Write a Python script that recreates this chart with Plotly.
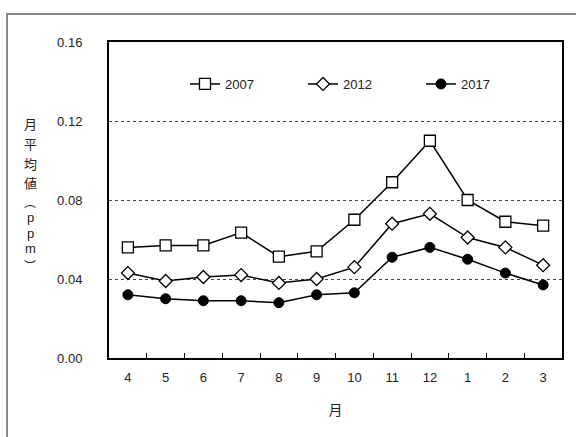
import plotly.graph_objects as go

months = ["4", "5", "6", "7", "8", "9", "10", "11", "12", "1", "2", "3"]
y2007 = [0.056, 0.057, 0.057, 0.0635, 0.0513, 0.054, 0.070, 0.089, 0.110, 0.080, 0.069, 0.067]
y2012 = [0.043, 0.039, 0.041, 0.042, 0.038, 0.040, 0.046, 0.068, 0.073, 0.061, 0.056, 0.047]
y2017 = [0.032, 0.030, 0.029, 0.029, 0.028, 0.032, 0.033, 0.051, 0.056, 0.050, 0.043, 0.037]
yticks = [0.00, 0.04, 0.08, 0.12, 0.16]
ytitle_chars = ["月", "平", "均", "値", "︵", "p", "p", "m", "︶"]
ytitle_pos = [123, 143, 163, 182, 201, 217, 233, 249, 265]
ytitle_cjk = [True, True, True, True, True, False, False, False, True]
ytitle_size = [13, 13, 13, 13, 12, 13, 13, 13, 12]

W, H = 576, 437
L, R, T, B = 109, 14, 42, 79
pw, ph = W - L - R, H - T - B

def px(x):
    return (x - L) / pw

def py(y):
    return (H - B - y) / ph

fig = go.Figure()
fig.add_trace(go.Scatter(x=months, y=y2007, name="2007", mode="lines+markers",
                         line=dict(color="black", width=1.5),
                         marker=dict(symbol="square", size=11, color="white",
                                     line=dict(color="black", width=1.3))))
fig.add_trace(go.Scatter(x=months, y=y2012, name="2012", mode="lines+markers",
                         line=dict(color="black", width=1.5),
                         marker=dict(symbol="diamond", size=10, color="white",
                                     line=dict(color="black", width=1.3))))
fig.add_trace(go.Scatter(x=months, y=y2017, name="2017", mode="lines+markers",
                         line=dict(color="black", width=1.5),
                         marker=dict(symbol="circle", size=10, color="black",
                                     line=dict(color="black", width=1))))

fig.update_layout(
    width=W, height=H,
    margin=dict(l=L, r=R, t=T, b=B, pad=0, autoexpand=False),
    paper_bgcolor="white", plot_bgcolor="white",
    font=dict(family="Liberation Sans, Arial, sans-serif", size=13, color="#222"),
    showlegend=True,
    legend=dict(orientation="h", x=px(185), y=py(84), xanchor="left", yanchor="middle",
                bgcolor="rgba(0,0,0,0)", font=dict(size=13, color="#222"),
                entrywidth=73, entrywidthmode="pixels", tracegroupgap=0),
    xaxis=dict(type="category", showgrid=False, showline=True, linecolor="black",
               linewidth=2, mirror=True, ticks="inside", tickson="boundaries",
               ticklen=5, tickcolor="black", tickwidth=1, zeroline=False,
               range=[-0.5, 11.5], automargin=False, ticklabelstandoff=6,
               title=dict(text="月", font=dict(family="Noto Sans CJK JP", size=14), standoff=22)),
    yaxis=dict(range=[0, 0.16], tickvals=yticks,
               ticktext=[f"{v:.2f}" for v in yticks], automargin=False,
               showgrid=True, gridcolor="#444", griddash="dot", gridwidth=1,
               showline=True, linecolor="black", linewidth=2, mirror=True,
               ticks="", zeroline=False, ticklabelstandoff=22),
)

for ch, yp, cjk, sz in zip(ytitle_chars, ytitle_pos, ytitle_cjk, ytitle_size):
    fig.add_annotation(
        text=ch, xref="paper", yref="paper", x=px(30), y=py(yp),
        xanchor="center", yanchor="middle", showarrow=False,
        font=dict(family="Noto Sans CJK JP" if cjk else "Liberation Sans, Arial, sans-serif",
                  size=sz, color="#222"),
    )

fig.add_shape(type="rect", xref="paper", yref="paper",
              x0=px(7), x1=px(590), y0=py(450), y1=py(14),
              line=dict(color="#888", width=2), fillcolor="rgba(0,0,0,0)", layer="below")

fig.write_html("out.html", config={"displayModeBar": False},
               post_script="document.body.style.margin='0';")
